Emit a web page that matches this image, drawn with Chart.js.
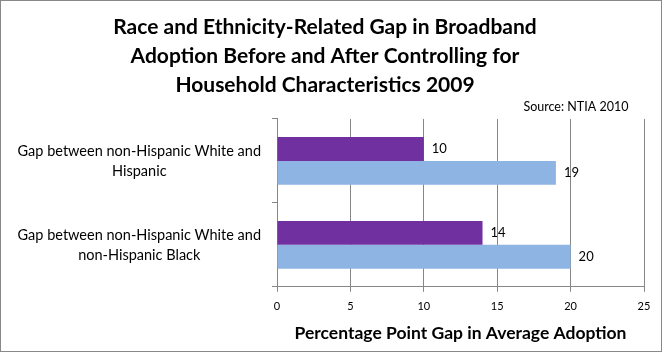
<!DOCTYPE html>
<html>
<head>
<meta charset="utf-8">
<script src="https://cdn.jsdelivr.net/npm/chart.js@4"></script>
<style>
  html, body { margin: 0; padding: 0; background: #fff; }
  .box { position: absolute; left: 0; top: 0; width: 660px; height: 350px; border: 1px solid #888; }
  #wrap { position: absolute; left: 0; top: 0; width: 664px; height: 354px; }
</style>
</head>
<body>
<div class="box"></div>
<div id="wrap"><canvas id="chart"></canvas></div>
<script>
const categories = [
  ['Gap between non-Hispanic White and', 'Hispanic'],
  ['Gap between non-Hispanic White and', 'non-Hispanic Black']
];
const beforeValues = [10, 14];
const afterValues = [19, 20];
const xTicks = [0, 5, 10, 15, 20, 25];

const gridGray = '#868686';
const fontFamily = 'Lato, "Open Sans", sans-serif';

// write the value just past the end of each bar
const barValues = {
  id: 'barValues',
  afterDatasetsDraw(chart) {
    const ctx = chart.ctx;
    ctx.save();
    ctx.font = '13px ' + fontFamily;
    ctx.fillStyle = '#000';
    ctx.textAlign = 'left';
    ctx.textBaseline = 'middle';
    chart.data.datasets.forEach((ds, i) => {
      chart.getDatasetMeta(i).data.forEach((bar, j) => {
        ctx.fillText(ds.data[j], bar.x + 8, bar.y);
      });
    });
    ctx.restore();
  }
};

new Chart(document.getElementById('chart'), {
  type: 'bar',
  data: {
    labels: categories,
    datasets: [
      { label: 'Before', data: beforeValues, backgroundColor: '#7030A0' },
      { label: 'After', data: afterValues, backgroundColor: '#8EB4E3' }
    ]
  },
  options: {
    indexAxis: 'y',
    responsive: true,
    maintainAspectRatio: false,
    animation: false,
    categoryPercentage: 0.57,
    barPercentage: 1,
    layout: { padding: { left: 6, right: 20, top: 0, bottom: 10 } },
    plugins: {
      legend: { display: false },
      tooltip: { enabled: false },
      title: {
        display: true,
        text: [
          'Race and Ethnicity-Related Gap in Broadband',
          'Adoption Before and After Controlling for',
          'Household Characteristics 2009'
        ],
        color: '#000',
        font: { family: fontFamily, size: 21, weight: 'bold', lineHeight: 1.38 },
        padding: { top: 13, bottom: 0 }
      },
      subtitle: {
        display: true,
        text: 'Source: NTIA 2010\u2003\u2002',
        align: 'end',
        color: '#000',
        font: { family: fontFamily, size: 12.5 },
        padding: { top: 0, bottom: 4 }
      }
    },
    scales: {
      x: {
        min: 0,
        max: 25,
        afterBuildTicks(scale) { scale.ticks = xTicks.map(v => ({ value: v })); },
        grid: { color: gridGray, tickLength: 5, drawTicks: true },
        border: { color: gridGray },
        ticks: { color: '#000', font: { family: fontFamily, size: 11 }, padding: 8 },
        title: {
          display: true,
          text: 'Percentage Point Gap in Average Adoption',
          color: '#000',
          font: { family: fontFamily, size: 17.5, weight: 'bold' },
          padding: { top: 2, bottom: 0 }
        }
      },
      y: {
        afterFit(scale) { scale.width = 271; },
        grid: { offset: true, drawOnChartArea: false, color: gridGray, tickLength: 5 },
        border: { color: gridGray },
        ticks: {
          color: '#000',
          crossAlign: 'center',
          padding: 11,
          font: { family: fontFamily, size: 14.5, lineHeight: 1.38 }
        }
      }
    }
  },
  plugins: [barValues]
});
</script>
</body>
</html>
